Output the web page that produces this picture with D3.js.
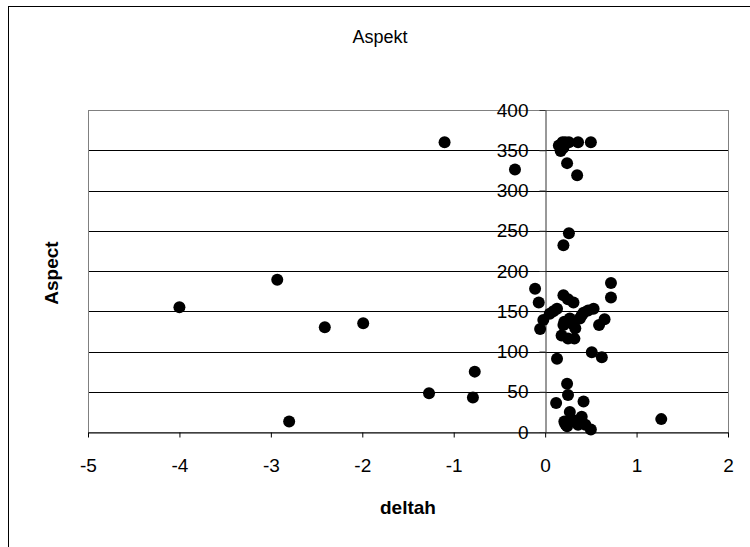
<!DOCTYPE html>
<html>
<head>
<meta charset="utf-8">
<script src="https://cdn.jsdelivr.net/npm/d3@7"></script>
<style>
  html, body { margin: 0; padding: 0; background: #fff; }
  svg { display: block; font-family: "Liberation Sans", Arial, sans-serif; }
</style>
</head>
<body>
<svg id="chart" width="750" height="547"></svg>
<script>
// deltah (x) and aspect (y) per observation
const deltah = [
  -1.10, -0.33, -2.93, -4.00, -2.41, -1.99, -0.77, -1.27, -0.79, -2.80, 1.27,
  0.15, 0.19, 0.22, 0.26, 0.36, 0.50, 0.17, 0.20, 0.24, 0.35, 0.26, 0.20,
  -0.11, -0.07, 0.72, 0.72, 0.20, 0.31, 0.25,
  0.13, 0.05, -0.02, -0.055, 0.09,
  0.53, 0.47, 0.42, 0.38, 0.40,
  0.65, 0.59,
  0.21, 0.27, 0.20, 0.33, 0.30,
  0.18, 0.25, 0.32,
  0.51, 0.62, 0.13,
  0.24, 0.25, 0.12, 0.42, 0.27, 0.40, 0.21, 0.33, 0.24, 0.44, 0.50, 0.29, 0.36, 0.22
];
const aspect = [
  360, 326, 189, 155, 130, 135, 75, 48, 43, 13, 16,
  356, 360, 360, 360, 360, 360, 349, 353, 334, 319, 247, 232,
  178, 161, 185, 167, 170, 161, 165,
  153, 147, 139, 128, 150,
  153, 151, 148, 141, 145,
  140, 133,
  137, 141, 133, 129, 134,
  120, 116, 116,
  99, 93, 91,
  60, 46, 36, 38, 25, 19, 13, 13, 7, 9, 3, 16, 9, 10
];

const xTicks = [-5, -4, -3, -2, -1, 0, 1, 2];
const yTicks = [0, 50, 100, 150, 200, 250, 300, 350, 400];

const chartTitle = "Aspekt";
const xTitle = "deltah";
const yTitle = "Aspect";

const svg = d3.select("#chart");
const plot = { left: 88, right: 728, top: 110, bottom: 432 };

const x = d3.scaleLinear().domain([-5, 2]).range([plot.left, plot.right]);
const y = d3.scaleLinear().domain([0, 400]).range([plot.bottom, plot.top]);

// outer chart frame (continues past the right and bottom edges)
svg.append("rect")
  .attr("x", 8.5).attr("y", 6.5)
  .attr("width", 800).attr("height", 600)
  .attr("fill", "none").attr("stroke", "#000").attr("stroke-width", 1);

// horizontal gridlines
svg.append("g")
  .selectAll("line")
  .data(yTicks.filter(v => v > 0 && v < 400))
  .join("line")
  .attr("x1", plot.left).attr("x2", plot.right)
  .attr("y1", d => Math.round(y(d)) + 0.5)
  .attr("y2", d => Math.round(y(d)) + 0.5)
  .attr("stroke", "#000").attr("stroke-width", 1);

// plot area border
svg.append("rect")
  .attr("x", plot.left + 0.5).attr("y", plot.top + 0.5)
  .attr("width", plot.right - plot.left).attr("height", plot.bottom - plot.top)
  .attr("fill", "none").attr("stroke", "#808080").attr("stroke-width", 1);

// x axis
const xAxis = svg.append("g")
  .attr("transform", `translate(0,${Math.round(y(0)) + 0.5})`)
  .call(d3.axisBottom(x).tickValues(xTicks).tickSize(5).tickPadding(21)
    .tickFormat(d3.format("d")).tickSizeOuter(0));
xAxis.select(".domain").attr("stroke", "#000");
xAxis.selectAll(".tick line").attr("stroke", "#000");
xAxis.selectAll(".tick text")
  .attr("font-size", 19).attr("fill", "#000")
  .attr("font-family", "Liberation Sans, Arial, sans-serif")
  .text(d => d < 0 ? "-" + Math.abs(d) : d);

// y axis crossing at deltah = 0
const yAxis = svg.append("g")
  .attr("transform", `translate(${Math.round(x(0)) + 0.5},0)`)
  .call(d3.axisLeft(y).tickValues(yTicks).tickSize(6).tickPadding(11)
    .tickFormat(d3.format("d")).tickSizeOuter(0));
yAxis.select(".domain").attr("stroke", "#333");
yAxis.selectAll(".tick line").attr("stroke", "#333");
yAxis.selectAll(".tick text")
  .attr("font-size", 19).attr("fill", "#000")
  .attr("font-family", "Liberation Sans, Arial, sans-serif");

// observations
svg.append("g")
  .selectAll("circle")
  .data(deltah.map((d, i) => ({ dx: d, asp: aspect[i] })))
  .join("circle")
  .attr("cx", d => x(d.dx))
  .attr("cy", d => y(d.asp))
  .attr("r", 6)
  .attr("fill", "#000");

// titles
svg.append("text")
  .attr("x", 380).attr("y", 43)
  .attr("text-anchor", "middle")
  .attr("font-size", 18)
  .text(chartTitle);

svg.append("text")
  .attr("x", (plot.left + plot.right) / 2).attr("y", 514)
  .attr("text-anchor", "middle")
  .attr("font-size", 19).attr("font-weight", "bold")
  .text(xTitle);

svg.append("text")
  .attr("transform", `translate(58,273) rotate(-90)`)
  .attr("text-anchor", "middle")
  .attr("font-size", 19).attr("font-weight", "bold")
  .text(yTitle);
</script>
</body>
</html>
